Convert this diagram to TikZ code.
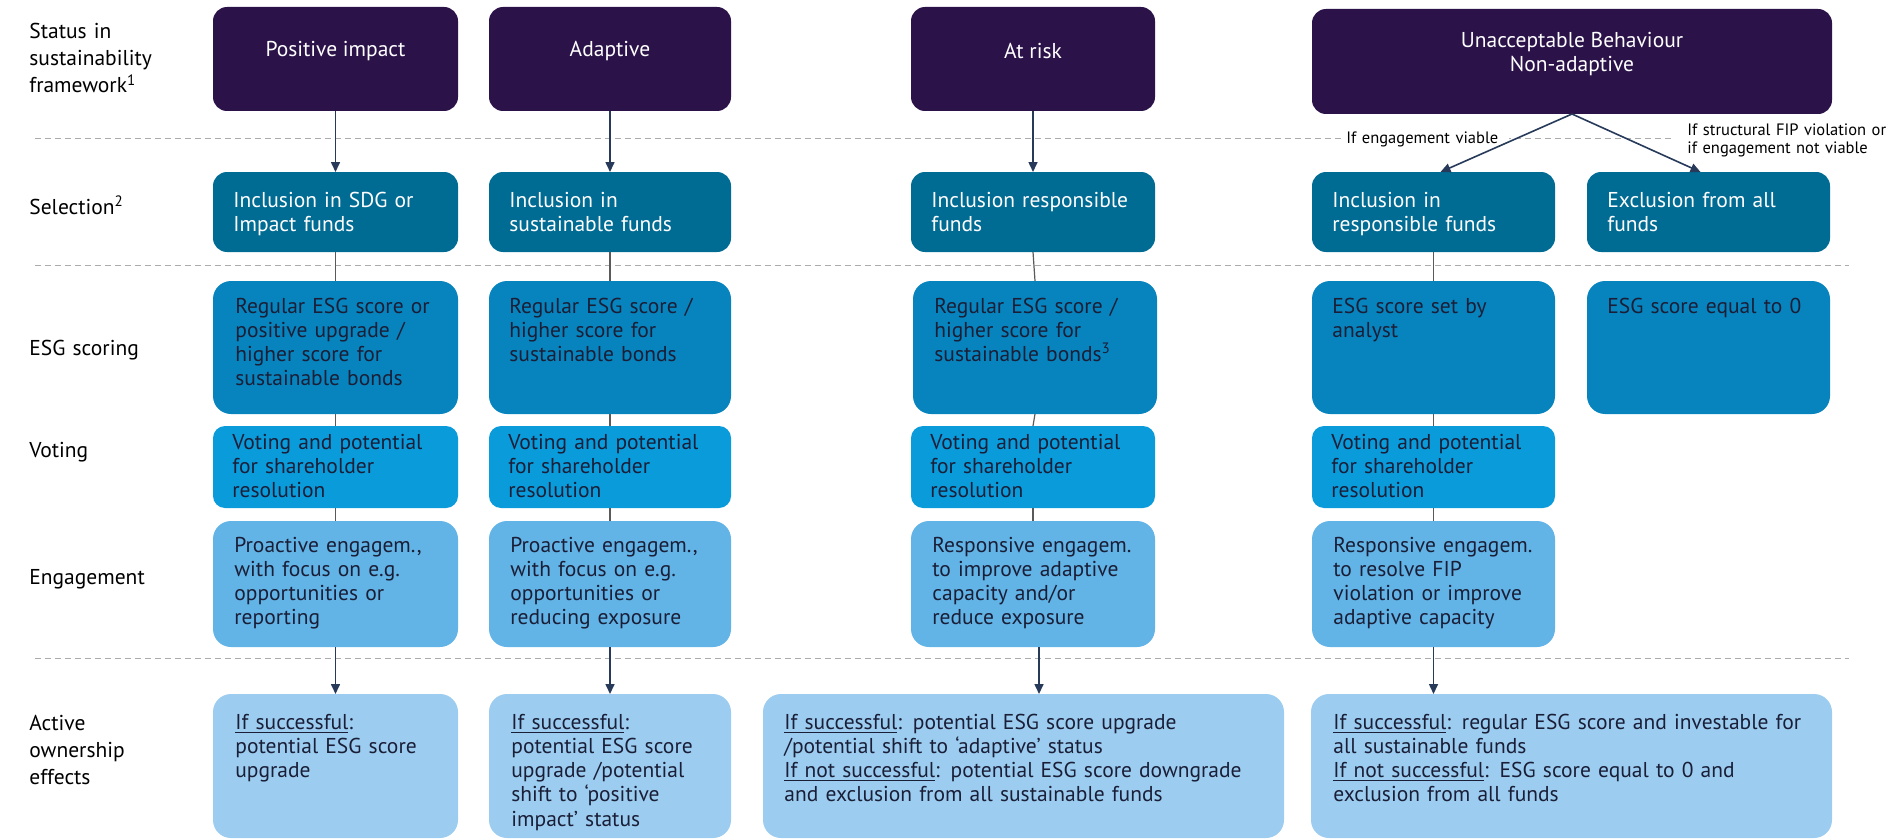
\documentclass[tikz,border=0pt]{standalone}
\usepackage{fontspec}
\setmainfont{PT Sans}
\usetikzlibrary{fit,calc,arrows.meta}
\definecolor{topc}{HTML}{2B1249}
\definecolor{selc}{HTML}{006B93}
\definecolor{esgc}{HTML}{0784BD}
\definecolor{votc}{HTML}{0A9BDB}
\definecolor{engc}{HTML}{62B3E6}
\definecolor{botc}{HTML}{9CCDF0}
\definecolor{ink}{HTML}{1A1E37}
\definecolor{arrc}{HTML}{283A5A}
\definecolor{connc}{HTML}{5A5A5A}
\definecolor{sepc}{HTML}{ABABAB}
\newcommand{\bodyfont}{\fontsize{10.75}{12.15}\selectfont}
\newcommand{\lblfont}{\fontsize{10.75}{13.5}\selectfont}
\newcommand{\notefont}{\fontsize{8.25}{9}\selectfont}
\begin{document}
\begin{tikzpicture}[x=0.5pt,y=-0.5pt,
  box/.style={inner sep=0pt, outer sep=0pt, draw=none, rounded corners=7pt},
  topbox/.style={box, fill=topc, text=white, font=\bodyfont, align=center},
  selbox/.style={box, fill=selc},
  esgbox/.style={box, fill=esgc, rounded corners=9pt},
  votbox/.style={box, fill=votc, rounded corners=6pt},
  engbox/.style={box, fill=engc, rounded corners=9pt},
  botbox/.style={box, fill=botc, rounded corners=9pt},
  txt/.style={anchor=base west, inner sep=0pt, align=left, text width=#1, font=\bodyfont, text=ink},
  txt/.default=118pt,
  wtxt/.style={txt, text=white},
  lbl/.style={anchor=base west, inner sep=0pt, align=left, text width=80pt, font=\lblfont, text=black},
  note/.style={anchor=base west, inner sep=1.5pt, fill=white, align=left, text width=#1, font=\notefont, text=black},
  note/.default=80pt,
  arr/.style={draw=arrc, line width=0.8pt, -{Triangle[length=5pt,width=4.5pt]}},
  conn/.style={draw=connc, line width=0.6pt},
  sepline/.style={draw=sepc, line width=0.5pt, dash pattern=on 3pt off 2pt}
]
\useasboundingbox (0,0) rectangle (1900,840);

% separators
\draw[sepline] (35,139) -- (1671,139);
\draw[sepline] (35,265) -- (1849,265);
\draw[sepline] (35,658) -- (1849,658);

% row labels
\node[lbl] (l1) at (29,39) {Status in\\sustainability\\framework\textsuperscript{1}};
\node[lbl] (l2) at (29,214) {Selection\textsuperscript{2}};
\node[lbl] (l3) at (29,355) {ESG scoring};
\node[lbl] (l4) at (29,457) {Voting};
\node[lbl] (l5) at (29,584) {Engagement};
\node[lbl] (l6) at (29,730) {Active\\ownership\\effects};

% top boxes
\node[topbox, fit={(213,7) (458,111)}] (top1) {Positive impact};
\node[topbox, fit={(489,7) (731,111)}] (top2) {Adaptive};
\node[topbox, fit={(911,7) (1155,111)}] (top3) {At risk};
\node[topbox, fit={(1312,9) (1832,114)}] (top4) {Unacceptable Behaviour\\Non-adaptive};

% selection boxes
\node[selbox, fit={(213,172) (458,252)}] (sel1) {};
\node[selbox, fit={(489,172) (731,252)}] (sel2) {};
\node[selbox, fit={(911,172) (1155,252)}] (sel3) {};
\node[selbox, fit={(1312,172) (1555,252)}] (sel4a) {};
\node[selbox, fit={(1587,172) (1830,252)}] (sel4b) {};

% ESG boxes
\node[esgbox, fit={(213,281) (458,414)}] (esg1) {};
\node[esgbox, fit={(489,281) (731,414)}] (esg2) {};
\node[esgbox, fit={(913,281) (1157,414)}] (esg3) {};
\node[esgbox, fit={(1312,281) (1555,414)}] (esg4a) {};
\node[esgbox, fit={(1587,281) (1830,414)}] (esg4b) {};

% voting boxes
\node[votbox, fit={(213,426) (458,508)}] (vot1) {};
\node[votbox, fit={(489,426) (731,508)}] (vot2) {};
\node[votbox, fit={(911,426) (1155,508)}] (vot3) {};
\node[votbox, fit={(1312,426) (1555,508)}] (vot4a) {};

% engagement boxes
\node[engbox, fit={(213,521) (458,647)}] (eng1) {};
\node[engbox, fit={(489,521) (731,647)}] (eng2) {};
\node[engbox, fit={(911,521) (1155,647)}] (eng3) {};
\node[engbox, fit={(1312,521) (1555,647)}] (eng4a) {};

% bottom boxes
\node[botbox, fit={(213,694) (458,838)}] (bot1) {};
\node[botbox, fit={(489,694) (731,838)}] (bot2) {};
\node[botbox, fit={(763,694) (1284,838)}] (bot3) {};
\node[botbox, fit={(1311,694) (1832,838)}] (bot4) {};

% selection texts
\node[wtxt] (tsel1) at ($(sel1.north west)+(20,35)$) {Inclusion in SDG or\\Impact funds};
\node[wtxt] (tsel2) at ($(sel2.north west)+(20,35)$) {Inclusion in\\sustainable funds};
\node[wtxt] (tsel3) at ($(sel3.north west)+(20,35)$) {Inclusion responsible\\funds};
\node[wtxt] (tsel4a) at ($(sel4a.north west)+(20,35)$) {Inclusion in\\responsible funds};
\node[wtxt] (tsel4b) at ($(sel4b.north west)+(20,35)$) {Exclusion from all\\funds};

% ESG texts
\node[txt] (tesg1) at ($(esg1.north west)+(22,32)$) {Regular ESG score or\\positive upgrade /\\higher score for\\sustainable bonds};
\node[txt] (tesg2) at ($(esg2.north west)+(20,32)$) {Regular ESG score /\\higher score for\\sustainable bonds};
\node[txt] (tesg3) at ($(esg3.north west)+(21,32)$) {Regular ESG score /\\higher score for\\sustainable bonds\textsuperscript{3}};
\node[txt] (tesg4a) at ($(esg4a.north west)+(20,32)$) {ESG score set by\\analyst};
\node[txt] (tesg4b) at ($(esg4b.north west)+(20,32)$) {ESG score equal to 0};

% voting texts
\node[txt] (tvot1) at ($(vot1.north west)+(19,23)$) {Voting and potential\\for shareholder\\resolution};
\node[txt] (tvot2) at ($(vot2.north west)+(19,23)$) {Voting and potential\\for shareholder\\resolution};
\node[txt] (tvot3) at ($(vot3.north west)+(19,23)$) {Voting and potential\\for shareholder\\resolution};
\node[txt] (tvot4a) at ($(vot4a.north west)+(19,23)$) {Voting and potential\\for shareholder\\resolution};

% engagement texts
\node[txt] (teng1) at ($(eng1.north west)+(21,31)$) {Proactive engagem.,\\with focus on e.g.\\opportunities or\\reporting};
\node[txt] (teng2) at ($(eng2.north west)+(21,31)$) {Proactive engagem.,\\with focus on e.g.\\opportunities or\\reducing exposure};
\node[txt] (teng3) at ($(eng3.north west)+(21,31)$) {Responsive engagem.\\to improve adaptive\\capacity and/or\\reduce exposure};
\node[txt] (teng4a) at ($(eng4a.north west)+(21,31)$) {Responsive engagem.\\to resolve FIP\\violation or improve\\adaptive capacity};

% bottom texts
\node[txt] (tbot1) at ($(bot1.north west)+(22,35)$) {\underline{If successful}:\\potential ESG score\\upgrade};
\node[txt] (tbot2) at ($(bot2.north west)+(22,35)$) {\underline{If successful}:\\potential ESG score\\upgrade /potential\\shift to ‘positive\\impact’ status};
\node[txt=250pt] (tbot3) at ($(bot3.north west)+(21,35)$) {\underline{If successful}: potential ESG score upgrade\\/potential shift to ‘adaptive’ status\\\underline{If not successful}: potential ESG score downgrade\\and exclusion from all sustainable funds};
\node[txt=250pt] (tbot4) at ($(bot4.north west)+(22,35)$) {\underline{If successful}: regular ESG score and investable for\\all sustainable funds\\\underline{If not successful}: ESG score equal to 0 and\\exclusion from all funds};

% notes on the split
\node[note=80pt] (n1) at (1343,143.5) {If engagement viable};
\node[note=100pt] (n2) at (1684,135.5) {If structural FIP violation or\\if engagement not viable};

% arrows top -> selection
\draw[arr] (top1.south) -- (sel1.north);
\draw[arr] (top2.south) -- (sel2.north);
\draw[arr] (top3.south) -- (sel3.north);
\draw[arr] (top4.south) -- ($(sel4a.north)+(7,0)$);
\draw[arr] (top4.south) -- ($(sel4b.north)+(-8,0)$);

% connectors
\foreach \c in {1,2,3,4a}{
  \draw[conn] (sel\c.south) -- (esg\c.north);
  \draw[conn] (esg\c.south) -- (vot\c.north);
  \draw[conn] (vot\c.south) -- (eng\c.north);
}

% arrows engagement -> effects
\draw[arr] (eng1.south) -- (bot1.north);
\draw[arr] (eng2.south) -- (bot2.north);
\draw[arr] ($(eng3.south)+(6,0)$) -- ($(eng3.south |- bot3.north)+(6,0)$);
\draw[arr] (eng4a.south) -- (eng4a.south |- bot4.north);
\end{tikzpicture}
\end{document}
